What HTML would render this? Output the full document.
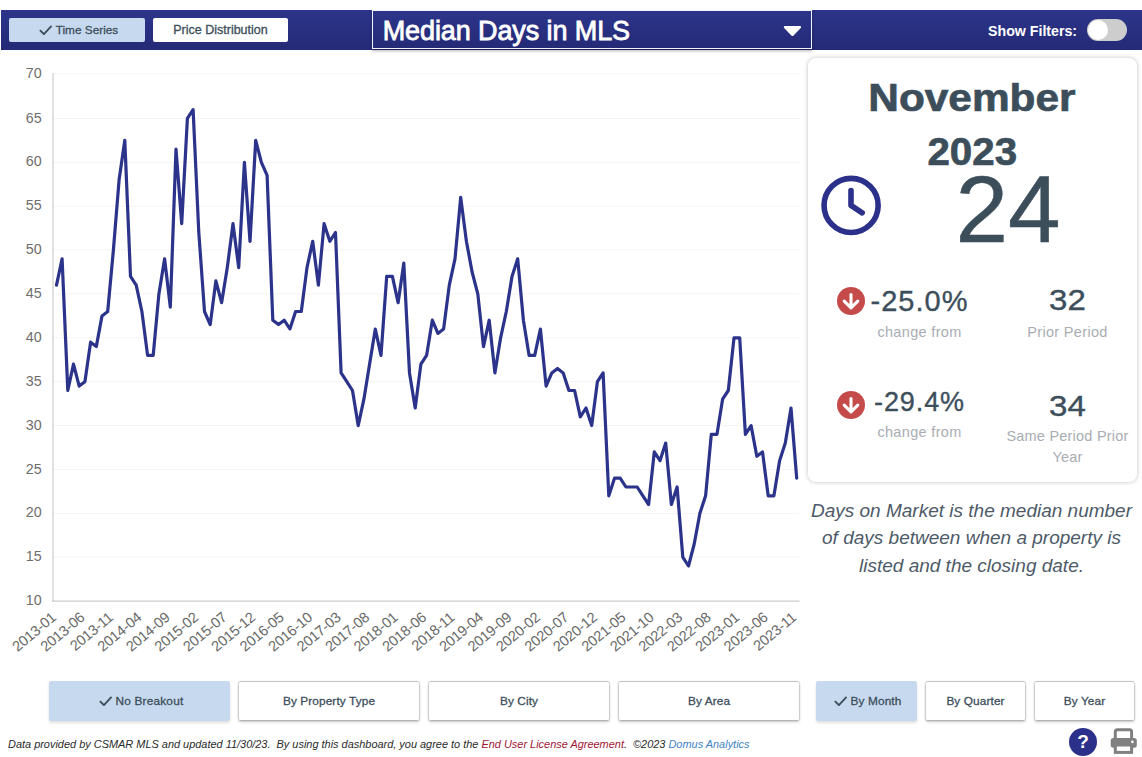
<!DOCTYPE html>
<html><head><meta charset="utf-8"><title>Median Days in MLS</title>
<style>
html,body{margin:0;padding:0;background:#fff;}
body{width:1142px;height:757px;position:relative;overflow:hidden;font-family:"Liberation Sans",sans-serif;color:#3d4e5b;}
.abs{position:absolute;}
.hdr{position:absolute;left:1px;top:10px;width:1141px;height:40px;background:linear-gradient(#2c358b,#252a76);}
.btn{position:absolute;box-sizing:border-box;background:#fff;color:#3d4e5b;-webkit-text-stroke:0.3px #3d4e5b;text-align:center;font-size:11.5px;font-weight:normal;border-radius:2px;white-space:nowrap;}
.btn.sel{background:#c7d9ef;}
.hbtn{top:18px;height:24px;line-height:24px;font-size:12.5px;}
.bbtn{top:681.6px;height:38.4px;line-height:39px;border-radius:1px;box-shadow:0 0 2px rgba(0,0,0,.5),0 -0.5px .5px rgba(0,0,0,.22),0 2px 3px rgba(0,0,0,.22);font-size:11.8px;letter-spacing:.12px;}
.bbtn.sel{top:681px;height:39.8px;line-height:40.2px;border-radius:2px;box-shadow:0 2px 3px rgba(0,0,0,.13);}
.dd{position:absolute;left:372px;top:10px;width:440px;height:39px;box-sizing:border-box;border:1px solid #f4f4fa;background:linear-gradient(#2c358b,#252a76);box-shadow:0 2px 3px rgba(0,0,0,.3);color:#fff;font-weight:normal;-webkit-text-stroke:0.8px #fff;font-size:27px;letter-spacing:-0.1px;line-height:40px;padding-left:9.7px;}
.card{position:absolute;left:808px;top:57.6px;width:328.5px;height:424.4px;border-radius:8px;background:#fff;box-shadow:0 0 4px rgba(0,0,0,.26);}
.ctr{position:absolute;text-align:center;white-space:nowrap;}
.lbl{color:#a9adb3;font-size:14.5px;letter-spacing:.33px;}
.desc{white-space:nowrap;position:absolute;left:805.5px;top:496.7px;width:332px;text-align:center;font-style:italic;font-size:19px;line-height:27.4px;color:#4d5a68;}
.foot{position:absolute;left:8px;top:737.6px;font-size:10.94px;font-style:italic;color:#2a2a2a;white-space:pre;}
</style></head><body>
<div class="hdr"></div>
<div class="btn sel hbtn" style="left:9px;width:136px;font-size:11.8px;padding-left:3px;"><svg width="13.4" height="10.6" viewBox="0 0 13.4 10.6" style="vertical-align:-1.2px;margin-right:3.6px"><path d="M0.9 5.1 L4.9 9.1 L12.6 0.9" fill="none" stroke="#3d4e5b" stroke-width="1.9"/></svg>Time Series</div>
<div class="btn hbtn" style="left:153px;width:135px;">Price Distribution</div>
<div class="dd">Median Days in MLS</div>
<svg class="abs" style="left:780px;top:22px" width="26" height="18" viewBox="780 22 26 18"><path d="M785 27.1 H799.9 L792.45 34.8 Z" fill="#fff" stroke="#fff" stroke-width="2.4" stroke-linejoin="round"/></svg>
<div class="abs" style="left:988px;top:23.2px;color:#fff;font-weight:bold;font-size:14.2px;line-height:17px;white-space:nowrap;">Show Filters:</div>
<div class="abs" style="left:1087px;top:19px;width:40px;height:22px;border-radius:11px;background:#cdcdcd;"><div class="abs" style="left:1.2px;top:1.3px;width:19.4px;height:19.4px;border-radius:10px;background:#fff;"></div></div>

<svg class="chart" width="812" height="680" viewBox="0 0 812 680">
<g><line x1="53.5" x2="799.5" y1="557.2" y2="557.2" stroke="#f3f3f3" stroke-width="1"/>
<line x1="53.5" x2="799.5" y1="513.3" y2="513.3" stroke="#f3f3f3" stroke-width="1"/>
<line x1="53.5" x2="799.5" y1="469.4" y2="469.4" stroke="#f3f3f3" stroke-width="1"/>
<line x1="53.5" x2="799.5" y1="425.6" y2="425.6" stroke="#f3f3f3" stroke-width="1"/>
<line x1="53.5" x2="799.5" y1="381.7" y2="381.7" stroke="#f3f3f3" stroke-width="1"/>
<line x1="53.5" x2="799.5" y1="337.8" y2="337.8" stroke="#f3f3f3" stroke-width="1"/>
<line x1="53.5" x2="799.5" y1="293.9" y2="293.9" stroke="#f3f3f3" stroke-width="1"/>
<line x1="53.5" x2="799.5" y1="250.0" y2="250.0" stroke="#f3f3f3" stroke-width="1"/>
<line x1="53.5" x2="799.5" y1="206.2" y2="206.2" stroke="#f3f3f3" stroke-width="1"/>
<line x1="53.5" x2="799.5" y1="162.3" y2="162.3" stroke="#f3f3f3" stroke-width="1"/>
<line x1="53.5" x2="799.5" y1="118.4" y2="118.4" stroke="#f3f3f3" stroke-width="1"/>
<line x1="53.5" x2="799.5" y1="73.8" y2="73.8" stroke="#f3f3f3" stroke-width="1"/>
</g>
<line x1="53" x2="53" y1="73.3" y2="601.5" stroke="#dedede" stroke-width="1.8"/>
<line x1="52.1" x2="799.5" y1="601.1" y2="601.1" stroke="#cccccc" stroke-width="1.2"/>
<g font-family="Liberation Sans, sans-serif" font-size="14.3" fill="#6e6e6e">
<text x="41.6" y="605.2" text-anchor="end">10</text>
<text x="41.6" y="561.3" text-anchor="end">15</text>
<text x="41.6" y="517.4" text-anchor="end">20</text>
<text x="41.6" y="473.5" text-anchor="end">25</text>
<text x="41.6" y="429.7" text-anchor="end">30</text>
<text x="41.6" y="385.8" text-anchor="end">35</text>
<text x="41.6" y="341.9" text-anchor="end">40</text>
<text x="41.6" y="298.0" text-anchor="end">45</text>
<text x="41.6" y="254.1" text-anchor="end">50</text>
<text x="41.6" y="210.3" text-anchor="end">55</text>
<text x="41.6" y="166.4" text-anchor="end">60</text>
<text x="41.6" y="122.5" text-anchor="end">65</text>
<text x="41.6" y="77.9" text-anchor="end">70</text>
</g>
<g font-family="Liberation Sans, sans-serif" font-size="14.6" letter-spacing="-0.25" fill="#686868">
<text transform="translate(57.1,619) rotate(-40)" text-anchor="end">2013-01</text>
<text transform="translate(85.5,619) rotate(-40)" text-anchor="end">2013-06</text>
<text transform="translate(114.0,619) rotate(-40)" text-anchor="end">2013-11</text>
<text transform="translate(142.5,619) rotate(-40)" text-anchor="end">2014-04</text>
<text transform="translate(170.9,619) rotate(-40)" text-anchor="end">2014-09</text>
<text transform="translate(199.4,619) rotate(-40)" text-anchor="end">2015-02</text>
<text transform="translate(227.9,619) rotate(-40)" text-anchor="end">2015-07</text>
<text transform="translate(256.3,619) rotate(-40)" text-anchor="end">2015-12</text>
<text transform="translate(284.8,619) rotate(-40)" text-anchor="end">2016-05</text>
<text transform="translate(313.3,619) rotate(-40)" text-anchor="end">2016-10</text>
<text transform="translate(341.8,619) rotate(-40)" text-anchor="end">2017-03</text>
<text transform="translate(370.2,619) rotate(-40)" text-anchor="end">2017-08</text>
<text transform="translate(398.7,619) rotate(-40)" text-anchor="end">2018-01</text>
<text transform="translate(427.2,619) rotate(-40)" text-anchor="end">2018-06</text>
<text transform="translate(455.6,619) rotate(-40)" text-anchor="end">2018-11</text>
<text transform="translate(484.1,619) rotate(-40)" text-anchor="end">2019-04</text>
<text transform="translate(512.6,619) rotate(-40)" text-anchor="end">2019-09</text>
<text transform="translate(541.0,619) rotate(-40)" text-anchor="end">2020-02</text>
<text transform="translate(569.5,619) rotate(-40)" text-anchor="end">2020-07</text>
<text transform="translate(598.0,619) rotate(-40)" text-anchor="end">2020-12</text>
<text transform="translate(626.5,619) rotate(-40)" text-anchor="end">2021-05</text>
<text transform="translate(654.9,619) rotate(-40)" text-anchor="end">2021-10</text>
<text transform="translate(683.4,619) rotate(-40)" text-anchor="end">2022-03</text>
<text transform="translate(711.9,619) rotate(-40)" text-anchor="end">2022-08</text>
<text transform="translate(740.3,619) rotate(-40)" text-anchor="end">2023-01</text>
<text transform="translate(768.8,619) rotate(-40)" text-anchor="end">2023-06</text>
<text transform="translate(797.3,619) rotate(-40)" text-anchor="end">2023-11</text>
</g>
<polyline fill="none" stroke="#2b338b" stroke-width="3.2" stroke-linejoin="round" stroke-linecap="round" points="56.5,285.1 62.1,258.8 67.8,390.5 73.5,364.1 79.2,386.1 84.9,381.7 90.6,342.2 96.3,346.6 102.0,315.9 107.7,311.5 113.4,250.0 119.1,179.8 124.8,140.3 130.5,276.4 136.2,285.1 141.9,311.5 147.6,355.4 153.2,355.4 158.9,293.9 164.6,258.8 170.3,307.1 176.0,149.1 181.7,223.7 187.4,118.4 193.1,109.6 198.8,232.5 204.5,311.5 210.2,324.6 215.9,280.8 221.6,302.7 227.3,267.6 233.0,223.7 238.7,267.6 244.4,162.3 250.0,241.3 255.7,140.3 261.4,162.3 267.1,175.4 272.8,320.2 278.5,324.6 284.2,320.2 289.9,329.0 295.6,311.5 301.3,311.5 307.0,267.6 312.7,241.3 318.4,285.1 324.1,223.7 329.8,241.3 335.5,232.5 341.1,372.9 346.8,381.7 352.5,390.5 358.2,425.6 363.9,399.2 369.6,364.1 375.3,329.0 381.0,355.4 386.7,276.4 392.4,276.4 398.1,302.7 403.8,263.2 409.5,372.9 415.2,408.0 420.9,364.1 426.6,355.4 432.3,320.2 437.9,333.4 443.6,329.0 449.3,285.1 455.0,258.8 460.7,197.4 466.4,241.3 472.1,272.0 477.8,293.9 483.5,346.6 489.2,320.2 494.9,372.9 500.6,337.8 506.3,311.5 512.0,276.4 517.7,258.8 523.4,320.2 529.1,355.4 534.7,355.4 540.4,329.0 546.1,386.1 551.8,372.9 557.5,368.5 563.2,372.9 568.9,390.5 574.6,390.5 580.3,416.8 586.0,408.0 591.7,425.6 597.4,381.7 603.1,372.9 608.8,495.8 614.5,478.2 620.2,478.2 625.9,487.0 631.5,487.0 637.2,487.0 642.9,495.8 648.6,504.5 654.3,451.9 660.0,460.7 665.7,443.1 671.4,504.5 677.1,487.0 682.8,557.2 688.5,566.0 694.2,544.0 699.9,513.3 705.6,495.8 711.3,434.3 717.0,434.3 722.6,399.2 728.3,390.5 734.0,337.8 739.7,337.8 745.4,434.3 751.1,425.6 756.8,456.3 762.5,451.9 768.2,495.8 773.9,495.8 779.6,460.7 785.3,443.1 791.0,408.0 796.7,478.2"/>
</svg>

<div class="card"></div>
<div class="ctr" id="month" style="left:808px;width:328px;top:71px;font-size:38px;font-weight:bold;line-height:54px;-webkit-text-stroke:0.7px #3d4e5b;"><span style="display:inline-block;transform:scaleX(1.115)">November</span><br><span style="display:inline-block;transform:scaleX(1.06)">2023</span></div>
<svg class="abs" style="left:816px;top:170px" width="70" height="70" viewBox="816 170 70 70"><circle cx="851.1" cy="205.4" r="27.05" fill="none" stroke="#2b318a" stroke-width="5.6"/><polyline points="851,190.6 851,205.4 862.2,212.8" fill="none" stroke="#2b318a" stroke-width="5.6" stroke-linecap="round" stroke-linejoin="round"/></svg>
<div class="ctr" id="big" style="left:908px;width:200px;top:156.5px;font-size:94.5px;line-height:104px;-webkit-text-stroke:0.5px #3d4e5b;">24</div>

<svg class="abs" style="left:834px;top:284.35px" width="34" height="34" viewBox="833.9 284.35 34 34"><circle cx="850.9" cy="301.35" r="14" fill="#c54b4b"/><path d="M850.9 294.95000000000005 V307.75 M844.1 301.55 L850.9 308.25 L857.6999999999999 301.55" fill="none" stroke="#fff" stroke-width="3.1" stroke-linecap="round" stroke-linejoin="round"/></svg>
<div class="ctr" id="p1" style="-webkit-text-stroke:0.35px #3d4e5b;left:869px;width:101px;top:283.6px;font-size:29px;letter-spacing:1px;line-height:34px;">-25.0%</div>
<div class="ctr lbl" style="left:869px;width:101px;top:322px;line-height:20px;">change from</div>
<div class="ctr" id="v1" style="-webkit-text-stroke:0.35px #3d4e5b;left:1017px;width:101px;top:283.4px;font-size:29.5px;line-height:34px;transform:scaleX(1.12);">32</div>
<div class="ctr lbl" style="left:1007px;width:121px;top:322px;line-height:20px;">Prior Period</div>

<svg class="abs" style="left:834px;top:388.20px" width="34" height="34" viewBox="833.9 388.2 34 34"><circle cx="850.9" cy="405.2" r="14" fill="#c54b4b"/><path d="M850.9 398.8 V411.59999999999997 M844.1 405.4 L850.9 412.09999999999997 L857.6999999999999 405.4" fill="none" stroke="#fff" stroke-width="3.1" stroke-linecap="round" stroke-linejoin="round"/></svg>
<div class="ctr" id="p2" style="-webkit-text-stroke:0.35px #3d4e5b;left:869px;width:101px;top:385.3px;font-size:27px;letter-spacing:.9px;line-height:34px;">-29.4%</div>
<div class="ctr lbl" style="left:869px;width:101px;top:422px;line-height:20px;">change from</div>
<div class="ctr" id="v2" style="-webkit-text-stroke:0.35px #3d4e5b;left:1017px;width:101px;top:389.2px;font-size:29.5px;line-height:34px;transform:scaleX(1.12);">34</div>
<div class="ctr lbl" style="left:1000px;width:135px;top:426px;line-height:20.7px;letter-spacing:.22px;">Same Period Prior<br>Year</div>

<div class="desc">Days on Market is the median number<br>of days between when a property is<br>listed and the closing date.</div>

<div class="btn sel bbtn" style="left:49px;width:181px;padding-left:3px;letter-spacing:.2px;"><svg width="13.4" height="10.6" viewBox="0 0 13.4 10.6" style="vertical-align:-1.2px;margin-right:3.6px"><path d="M0.9 5.1 L4.9 9.1 L12.6 0.9" fill="none" stroke="#3d4e5b" stroke-width="1.9"/></svg>No Breakout</div>
<div class="btn bbtn" style="left:239px;width:180px;">By Property Type</div>
<div class="btn bbtn" style="left:429px;width:180px;">By City</div>
<div class="btn bbtn" style="left:619px;width:180px;">By Area</div>
<div class="btn sel bbtn" style="left:816px;width:101px;padding-left:2px;"><svg width="13.4" height="10.6" viewBox="0 0 13.4 10.6" style="vertical-align:-1.2px;margin-right:3.6px"><path d="M0.9 5.1 L4.9 9.1 L12.6 0.9" fill="none" stroke="#3d4e5b" stroke-width="1.9"/></svg>By Month</div>
<div class="btn bbtn" style="left:926px;width:99px;">By Quarter</div>
<div class="btn bbtn" style="left:1035px;width:99px;">By Year</div>

<div class="foot">Data provided by CSMAR MLS and updated 11/30/23.  By using this dashboard, you agree to the <span style="color:#a01535">End User License Agreement</span>.  ©2023 <span style="color:#4183c4">Domus Analytics</span></div>

<div class="abs" style="left:1069px;top:727.5px;width:28px;height:28px;border-radius:14px;background:#2b318a;color:#fff;font-weight:bold;font-size:19px;line-height:28px;text-align:center;">?</div>
<svg class="abs" style="left:1108px;top:725px" width="32" height="32" viewBox="1108 725 32 32"><path d="M1115.3 739 V731.7 Q1115.3 729.7 1117.3 729.7 H1129.6 Q1131.6 729.7 1131.6 731.7 V739" fill="none" stroke="#808080" stroke-width="3"/><rect x="1110.7" y="738.1" width="26.1" height="9.6" rx="2.6" fill="#808080"/><rect x="1115.3" y="745" width="16.3" height="7.4" fill="#fff" stroke="#808080" stroke-width="3"/><circle cx="1132.4" cy="741.9" r="1.3" fill="#fff"/></svg>
</body></html>
